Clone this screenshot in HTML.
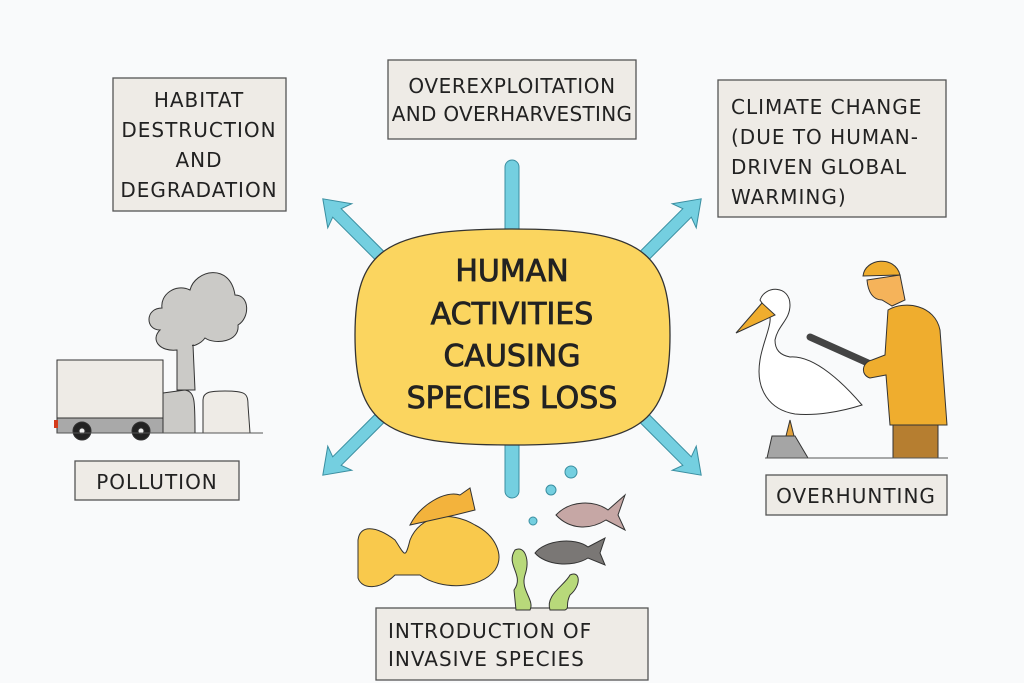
<!DOCTYPE html>
<html><head><meta charset="utf-8"><style>
body{margin:0;background:#f9fafb;}
svg{display:block}
text{font-family:"DejaVu Sans","Liberation Sans",sans-serif;fill:#222}
</style></head><body>
<svg width="1024" height="683" viewBox="0 0 1024 683" xmlns="http://www.w3.org/2000/svg">
<defs><path id="ar" d="M0,-6 L92,-6 L88,-17 L112,0 L88,17 L92,6 L0,6 Z"/></defs>
<rect width="1024" height="683" fill="#f9fafb"/>
<g fill="#eeebe6" stroke="#555" stroke-width="1.3">
<rect x="113" y="78" width="173" height="133"/>
<rect x="388" y="60" width="248" height="79"/>
<rect x="718" y="80" width="228" height="137"/>
<rect x="75" y="461" width="164" height="39"/>
<rect x="766" y="475" width="181" height="40"/>
<rect x="376" y="608" width="272" height="72"/>
</g>
<g font-size="20" text-anchor="middle" letter-spacing="1">
<text x="199" y="107">HABITAT</text>
<text x="199" y="137">DESTRUCTION</text>
<text x="199" y="167">AND</text>
<text x="199" y="197">DEGRADATION</text>
<text x="512" y="93" letter-spacing="0.6">OVEREXPLOITATION</text>
<text x="512" y="121" letter-spacing="0.3">AND OVERHARVESTING</text>
<text x="157" y="489">POLLUTION</text>
<text x="856" y="503">OVERHUNTING</text>
</g>
<g font-size="20" letter-spacing="1">
<text x="731" y="114">CLIMATE CHANGE</text>
<text x="731" y="144">(DUE TO HUMAN-</text>
<text x="731" y="174">DRIVEN GLOBAL</text>
<text x="731" y="204">WARMING)</text>
<text x="388" y="638">INTRODUCTION OF</text>
<text x="388" y="666">INVASIVE SPECIES</text>
</g>
<g fill="#74cfe0" stroke="#3a8ea0" stroke-width="1">
<rect x="505" y="160" width="14" height="80" rx="7"/>
<rect x="505" y="430" width="14" height="68" rx="7"/>
<use href="#ar" transform="translate(402,278) rotate(-135)"/>
<use href="#ar" transform="translate(622,278) rotate(-45)"/>
<use href="#ar" transform="translate(402,396) rotate(135)"/>
<use href="#ar" transform="translate(622,396) rotate(45)"/>
</g>
<path d="M512,229 C640,229 670,250 670,335 C670,425 640,445 512,445 C384,445 355,425 355,335 C355,250 384,229 512,229Z" fill="#fbd55f" stroke="#333" stroke-width="1.3"/>
<g font-size="30" text-anchor="middle" stroke="#222" stroke-width="0.8">
<text x="512" y="281">HUMAN</text>
<text x="512" y="324">ACTIVITIES</text>
<text x="512" y="366">CAUSING</text>
<text x="512" y="408">SPECIES LOSS</text>
</g>
<g stroke="#333" stroke-width="1">
<path d="M177,390 L177,350 C160,352 150,340 160,330 C145,330 145,308 162,308 C160,295 175,283 190,290 C195,270 230,262 235,295 C250,295 250,318 238,325 C240,342 215,345 205,338 C200,345 190,347 193,345 L195,390 Z" fill="#cbcac7"/>
<path d="M163,393 L185,390 C195,392 195,400 195,433 L163,433 Z" fill="#cbcac7"/>
<path d="M203,433 L203,400 C203,392 210,391 225,391 C245,391 248,393 248,405 L250,433 Z" fill="#eeebe6"/>
<rect x="57" y="360" width="106" height="60" fill="#eeebe6"/>
<rect x="57" y="418" width="106" height="15" fill="#a9a9a9"/>
<rect x="54" y="420" width="4" height="8" fill="#d43a1a" stroke="none"/>
<circle cx="82" cy="431" r="9" fill="#222"/><circle cx="82" cy="431" r="3" fill="#eee"/>
<circle cx="141" cy="431" r="9" fill="#222"/><circle cx="141" cy="431" r="3" fill="#eee"/>
<line x1="57" y1="433" x2="263" y2="433" stroke="#555"/>
</g>
<g stroke="#333" stroke-width="1">
<path d="M790,420 L795,440 L785,440 Z" fill="#e2a13a"/>
<path d="M772,436 L795,436 L808,458 L767,458 Z" fill="#a5a5a5"/>
<path d="M760,300 C765,285 790,285 790,305 C790,320 778,325 775,340 C775,350 780,355 790,357 C815,355 845,385 862,405 C840,412 815,416 795,414 C770,410 755,390 760,360 C763,340 775,320 768,312 Z" fill="#fff"/>
<path d="M762,303 L736,333 L775,315 Z" fill="#efad2e"/>
<line x1="810" y1="337" x2="868" y2="363" stroke="#444" stroke-width="7" stroke-linecap="round"/>
<path d="M863,276 C865,258 895,255 900,275 Z" fill="#efad2e"/>
<path d="M867,280 L900,275 L905,300 L892,306 L882,300 C873,300 868,292 867,280 Z" fill="#f5b35a"/>
<path d="M888,310 C905,300 935,305 940,330 L947,425 L890,425 L886,375 L870,378 C860,375 862,362 872,360 L885,355 Z" fill="#efad2e"/>
<rect x="893" y="425" width="45" height="33" fill="#b67e30"/>
<line x1="765" y1="458" x2="948" y2="458" stroke="#555"/>
</g>
<g stroke="#333" stroke-width="1">
<path d="M358,540 C360,525 375,525 395,540 C405,555 405,560 410,540 C420,515 450,510 475,525 C495,535 505,555 495,570 C480,590 440,590 420,575 L395,575 C380,590 362,590 358,578 Z" fill="#f9c94c"/>
<path d="M410,525 C420,505 445,490 460,495 L470,488 L475,510 L455,515 Z" fill="#f3b33c"/>
<path d="M514,590 C525,575 505,565 515,550 C525,545 530,560 525,575 C520,590 535,600 530,610 L516,610 Z" fill="#b8d97a"/>
<path d="M550,610 C545,595 565,585 570,575 C580,570 582,585 570,595 C565,605 570,608 565,610 Z" fill="#b8d97a"/>
<path d="M556,515 C570,500 595,500 608,510 L625,495 L618,515 L625,530 L606,520 C590,530 570,530 556,515 Z" fill="#c6a7a5"/>
<path d="M535,553 C545,540 575,537 588,547 L605,538 L600,553 L605,565 L588,558 C572,568 545,565 535,553 Z" fill="#7a7775"/>
</g>
<g fill="#74cfe0" stroke="#3a8ea0"><circle cx="571" cy="472" r="6"/><circle cx="551" cy="490" r="5"/><circle cx="533" cy="521" r="4"/></g>
</svg>
</body></html>
